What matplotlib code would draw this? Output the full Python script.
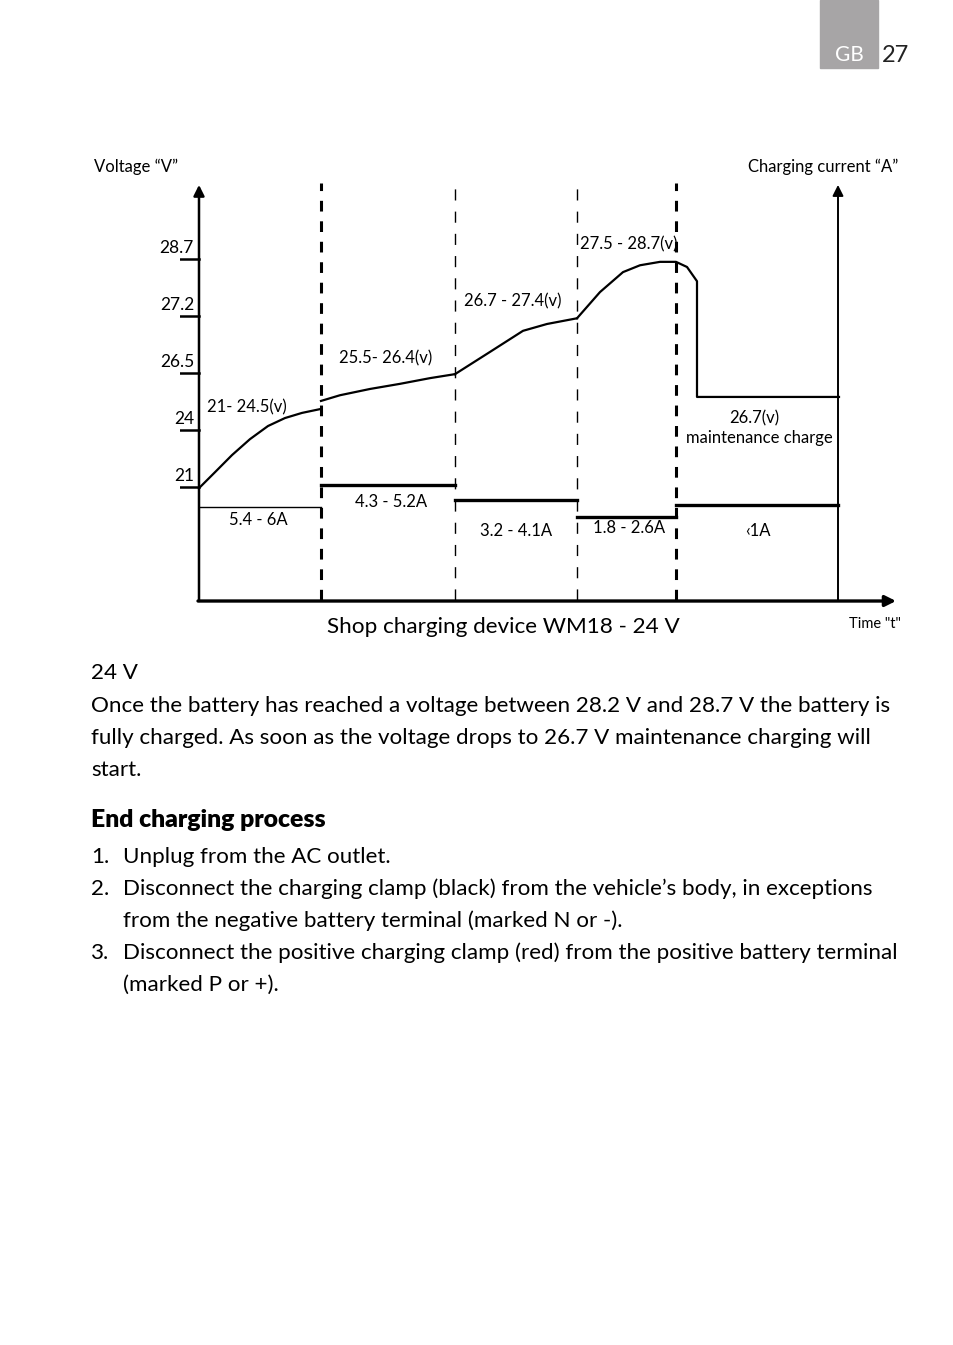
import numpy as np
import matplotlib
matplotlib.use('Agg')
from matplotlib import pyplot as plt

plt.rcParams['font.family'] = ['Lato', 'DejaVu Sans']

# phase boundaries on the time axis (arbitrary units)
phase_t = [0, 1.22, 2.56, 3.78, 4.77, 6.39]
dash_heavy = [True, False, False, True]

# voltage axis: evenly spaced levels with these labels
tick_levels = [2, 3, 4, 5, 6]
tick_labels = ['21', '24', '26.5', '27.2', '28.7']

# voltage curve, one list per phase (t, level)
v1_t = [0, 0.16, 0.33, 0.51, 0.69, 0.86, 1.03, 1.22]
v1_y = [1.98, 2.26, 2.56, 2.84, 3.07, 3.21, 3.30, 3.37]
v2_t = [1.22, 1.41, 1.71, 2.01, 2.31, 2.56]
v2_y = [3.51, 3.61, 3.72, 3.81, 3.91, 3.98]
v3_t = [2.56, 2.91, 3.24, 3.48, 3.78]
v3_y = [3.98, 4.37, 4.74, 4.86, 4.96]
v4_t = [3.78, 4.01, 4.24, 4.41, 4.61, 4.77, 4.88, 4.98, 4.98, 6.40]
v4_y = [4.96, 5.42, 5.77, 5.89, 5.95, 5.95, 5.86, 5.61, 3.58, 3.58]

# current steps per phase
cur_levels = [1.65, 2.04, 1.77, 1.47, 1.68]
cur_lw = [1.0, 2.4, 2.4, 2.4, 2.4]
cur_labels = ['5.4 - 6A', '4.3 - 5.2A', '3.2 - 4.1A', '1.8 - 2.6A', '\u20391A']
cur_label_pos = [(0.59, 1.42), (1.92, 1.74), (3.17, 1.23), (4.30, 1.28), (5.59, 1.23)]

volt_labels = ['21- 24.5(v)', '25.5- 26.4(v)', '26.7 - 27.4(v)', '27.5 - 28.7(v)']
volt_label_pos = [(0.08, 3.40), (1.40, 4.25), (2.65, 5.26), (3.81, 6.25)]

W, H = 954, 1345
fig = plt.figure(figsize=(W / 100, H / 100), dpi=100)

def fx(px):
    return px / W

def fy(py):
    return 1 - py / H

# header box
fig.patches.append(plt.Rectangle((fx(820), fy(68)), fx(58), 68 / H,
                                 transform=fig.transFigure, color='#a7a5a6'))
fig.text(fx(849), fy(55), 'GB', color='white', fontsize=15, ha='center', va='center')
fig.text(fx(882), fy(55), '27', color='#222222', fontsize=17, ha='left', va='center')

# chart axes
ax = fig.add_axes([fx(180), fy(605), 720 / W, 425 / H])
ax.set_xlim(-0.19, 7.01)
ax.set_ylim(-0.07, 7.386)
ax.axis('off')

# axes with arrows
arr = dict(arrowstyle='-|>', color='black', mutation_scale=16, shrinkA=0, shrinkB=0)
ax.annotate('', xy=(0, 7.30), xytext=(0, 0), arrowprops=dict(arr, lw=1.8))
ax.annotate('', xy=(phase_t[-1], 7.30), xytext=(phase_t[-1], 0), arrowprops=dict(arr, lw=1.4))
ax.annotate('', xy=(6.97, 0), xytext=(-0.01, 0), arrowprops=dict(arr, lw=2.4))

# dashed phase lines
for t, heavy in zip(phase_t[1:5], dash_heavy):
    if heavy:
        ax.plot([t, t], [0.02, 7.33], color='black', lw=2.2, dashes=(3.5, 3.2))
    else:
        ax.plot([t, t], [0.02, 7.33], color='black', lw=1.0, dashes=(8, 8))

# voltage ticks
for lv, lab in zip(tick_levels, tick_labels):
    ax.plot([-0.19, 0], [lv, lv], color='black', lw=1.8)
    ax.text(-0.05, lv + 0.05, lab, ha='right', va='bottom', fontsize=12.5)

# voltage curve
for tt, yy in [(v1_t, v1_y), (v2_t, v2_y), (v3_t, v3_y), (v4_t, v4_y)]:
    ax.plot(tt, yy, color='black', lw=1.6, solid_joinstyle='round')

# current steps
for i, (lv, lw) in enumerate(zip(cur_levels, cur_lw)):
    ax.plot([phase_t[i], phase_t[i + 1]], [lv, lv], color='black', lw=lw)
for lab, (t, y) in zip(cur_labels, cur_label_pos):
    ax.text(t, y, lab, ha='center', va='center', fontsize=12)

for lab, (t, y) in zip(volt_labels, volt_label_pos):
    ax.text(t, y, lab, ha='left', va='center', fontsize=12)
ax.text(5.55, 3.21, '26.7(v)', ha='center', va='center', fontsize=12)
ax.text(5.60, 2.86, 'maintenance charge', ha='center', va='center', fontsize=12)

# labels around the chart
fig.text(fx(94), fy(167), 'Voltage \u201cV\u201d', fontsize=12, ha='left', va='center')
fig.text(fx(898), fy(167), 'Charging current \u201cA\u201d', fontsize=12, ha='right', va='center')
fig.text(fx(901), fy(624), 'Time "t"', fontsize=10.5, ha='right', va='center')
fig.text(fx(503), fy(627), 'Shop charging device WM18 - 24 V', fontsize=16.2, ha='center', va='center')

# body text
body = [
    (91, 673, '24 V'),
    (91, 706, 'Once the battery has reached a voltage between 28.2 V and 28.7 V the battery is'),
    (91, 738, 'fully charged. As soon as the voltage drops to 26.7 V maintenance charging will'),
    (91, 770, 'start.'),
]
for x, y, s in body:
    fig.text(fx(x), fy(y), s, fontsize=16.1, ha='left', va='center')
fig.text(fx(91), fy(820), 'End charging process', fontsize=17.8, fontweight='heavy',
         ha='left', va='center')

items = [
    (857, '1.', 'Unplug from the AC outlet.'),
    (889, '2.', 'Disconnect the charging clamp (black) from the vehicle\u2019s body, in exceptions'),
    (921, '', 'from the negative battery terminal (marked N or -).'),
    (953, '3.', 'Disconnect the positive charging clamp (red) from the positive battery terminal'),
    (985, '', '(marked P or +).'),
]
for y, num, s in items:
    if num:
        fig.text(fx(91), fy(y), num, fontsize=16.1, ha='left', va='center')
    fig.text(fx(123), fy(y), s, fontsize=16.1, ha='left', va='center')

fig.savefig('out.png', dpi=100, facecolor='white')
